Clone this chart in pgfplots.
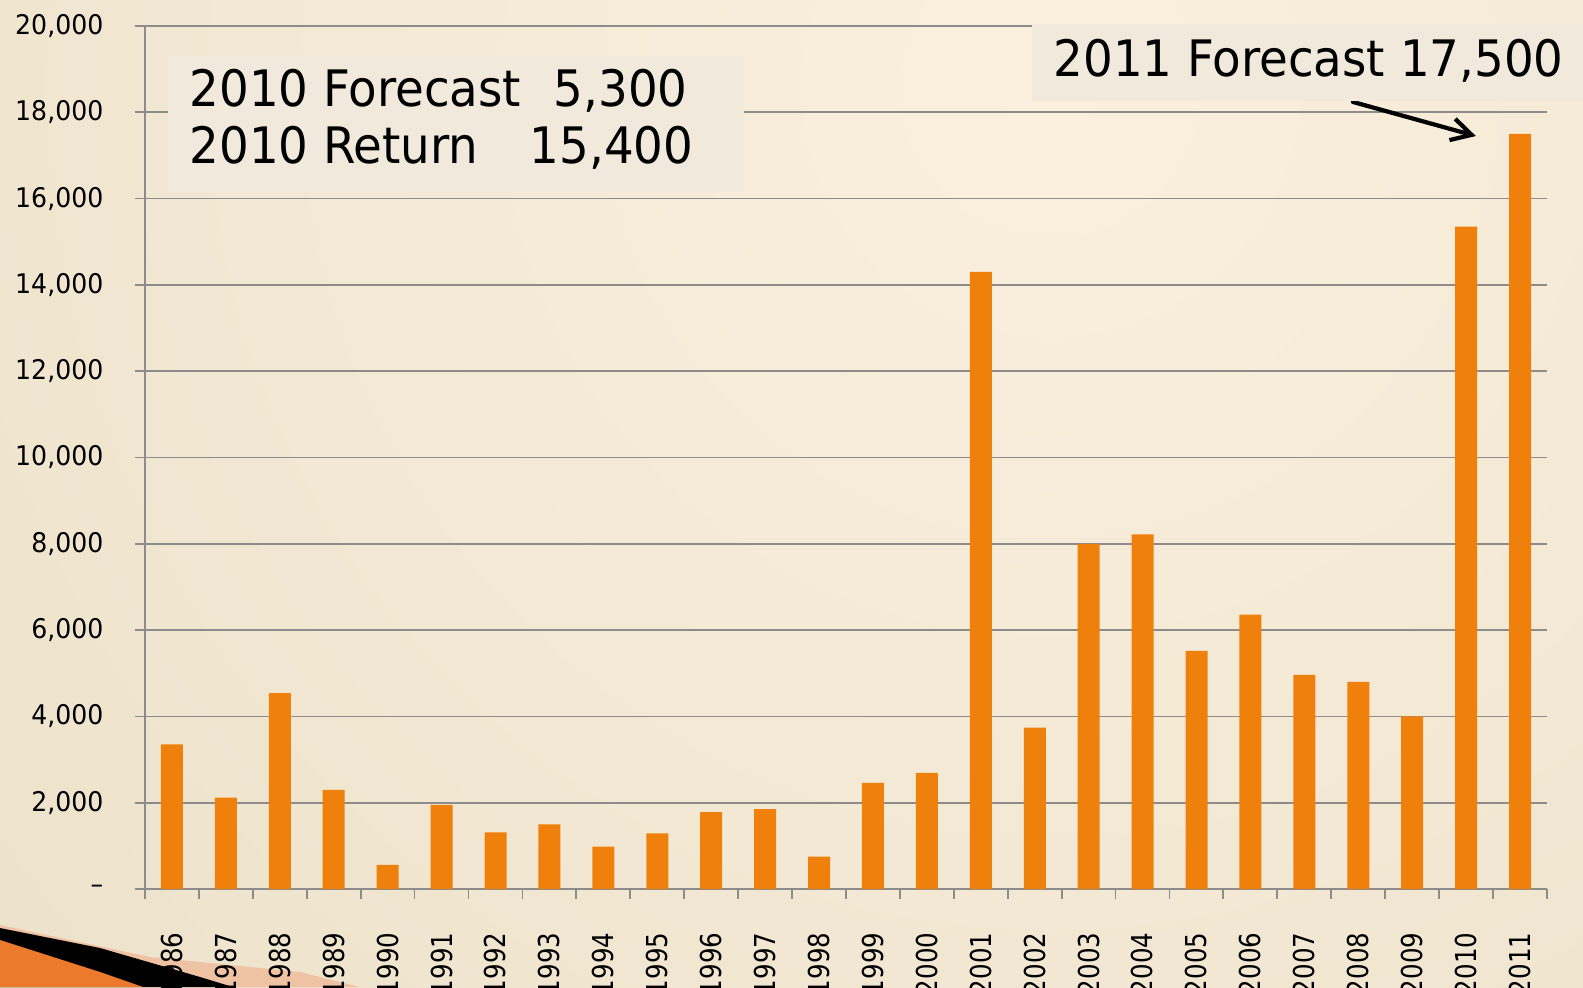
\documentclass[border=0pt]{standalone}
\usepackage{pgfplots}
\pgfplotsset{compat=1.18}
\usepackage{pgfplotstable}
\usetikzlibrary{arrows.meta}
\usepackage{fontspec}
\setmainfont{DejaVu Sans}[FakeStretch=0.93]
\newfontfamily\xlabfont{DejaVu Sans}[FakeStretch=0.85]

\definecolor{barorange}{RGB}{240,128,12}
\definecolor{gridgray}{RGB}{140,140,140}
\definecolor{bgbeige}{RGB}{228,218,192}
\definecolor{bglight}{RGB}{251,240,222}
\definecolor{boxfill}{RGB}{241,233,220}
\definecolor{peach}{RGB}{240,194,164}
\definecolor{swoosh}{RGB}{236,122,44}

\newcommand\annfont{\fontsize{14.3}{16}\selectfont}
\newcommand\yfont{\fontsize{7.7}{9}\selectfont}
\newcommand\xfont{\xlabfont\fontsize{8.2}{9}\selectfont}

\pgfplotstableread{
year value
1986 3350
1987 2120
1988 4540
1989 2300
1990 560
1991 1950
1992 1310
1993 1500
1994 980
1995 1290
1996 1780
1997 1850
1998 750
1999 2460
2000 2690
2001 14300
2002 3740
2003 8000
2004 8220
2005 5520
2006 6360
2007 4960
2008 4800
2009 4000
2010 15350
2011 17500
}\returns

\begin{document}
\begin{tikzpicture}
\useasboundingbox (0,0) rectangle (15.83,9.87);
\clip (0,0) rectangle (15.83,9.87);
% background
\fill[bgbeige] (0,0) rectangle (15.83,9.87);
\shade[inner color=bglight, outer color=bgbeige] (10.5,9) circle (22cm);

% corner decoration (under the tick labels)
\fill[peach] (0,0.62) -- (1.5,0.30) -- (3.0,0.15) -- (3.6,0) -- (0,0) -- cycle;
\fill[black] (0,0.59) -- (1,0.39) -- (2,0.10) -- (2.33,0) -- (0,0) -- cycle;
\fill[swoosh] (0,0.47) -- (1,0.15) -- (1.43,0) -- (0,0) -- cycle;

\begin{axis}[
    at={(1.45cm,0.98cm)}, anchor=south west,
    width=14.02cm, height=8.63cm, scale only axis,
    xmin=1985.5, xmax=2011.5, ymin=0, ymax=20000,
    ybar, bar width=0.22cm,
    axis x line*=bottom, axis y line*=left,
    axis line style={-, draw=gridgray, line width=0.5pt},
    tick align=outside,
    xtick={1986,...,2011},
    xticklabels={1986,1987,1988,1989,1990,1991,1992,1993,1994,1995,1996,1997,1998,
                 1999,2000,2001,2002,2003,2004,2005,2006,2007,2008,2009,2010,2011},
    major x tick style={draw=none},
    minor xtick={1985.5,1986.5,...,2011.5},
    minor x tick style={draw=gridgray, line width=0.5pt},
    minor tick length=0.1cm,
    ytick={0,2000,...,20000},
    yticklabels={{\textendash\hspace{0.16cm}},{2,000},{4,000},{6,000},{8,000},{10,000},
                 {12,000},{14,000},{16,000},{18,000},{20,000}},
    major tick length=0.1cm,
    y tick style={draw=gridgray, line width=0.5pt},
    ymajorgrids, grid style={draw=gridgray, line width=0.5pt},
    /pgf/number format/assume math mode=true,
    xticklabel style={yshift=-0.33cm, rotate=90, anchor=east, inner sep=0pt, font=\xfont},
    yticklabel style={anchor=east, inner sep=0pt, xshift=-0.31cm, font=\yfont},
    clip=false,
]
\addplot[fill=barorange, draw=none] table[x=year, y=value] {\returns};
\draw[line width=1.2pt, line cap=round, -{Straight Barb[length=0.2cm, width=0.22cm]}]
    (axis cs:2007.9,18240) -- (axis cs:2010.18,17450);
\end{axis}

% annotation boxes
\fill[boxfill] (1.68,7.95) rectangle (7.44,9.31);
\node[anchor=base west, inner sep=0pt, font=\annfont] at (1.89,8.80) {2010 Forecast};
\node[anchor=base west, inner sep=0pt, font=\annfont] at (5.53,8.80) {5,300};
\node[anchor=base west, inner sep=0pt, font=\annfont] at (1.89,8.23) {2010 Return};
\node[anchor=base west, inner sep=0pt, font=\annfont] at (5.29,8.23) {15,400};

\fill[boxfill] (10.32,8.86) rectangle (15.83,9.63);
\node[anchor=base west, inner sep=0pt, font=\annfont] at (10.53,9.10) {2011 Forecast 17,500};
\end{tikzpicture}
\end{document}
